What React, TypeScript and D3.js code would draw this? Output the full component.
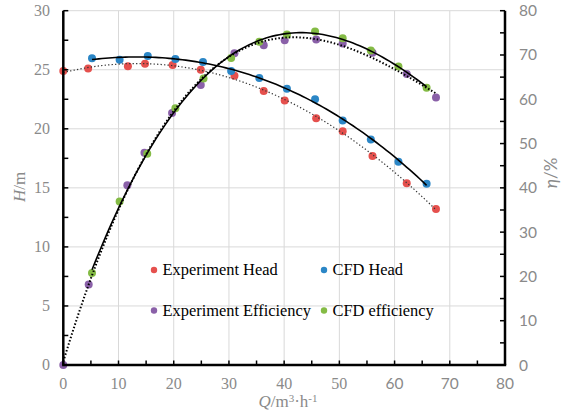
import React from "react";
import * as d3 from "d3";

const expHeadQ = [0, 4.5, 11.7, 14.8, 19.8, 24.9, 31.0, 36.3, 40.1, 45.8, 50.6, 56.0, 62.2, 67.5];
const expHeadH = [24.9, 25.1, 25.3, 25.5, 25.4, 25.0, 24.5, 23.2, 22.4, 20.9, 19.8, 17.7, 15.4, 13.2];
const cfdHeadQ = [5.2, 10.2, 15.3, 20.3, 25.3, 30.4, 35.5, 40.5, 45.6, 50.6, 55.7, 60.7, 65.8];
const cfdHeadH = [25.97, 25.85, 26.16, 25.9, 25.65, 24.9, 24.3, 23.4, 22.5, 20.7, 19.1, 17.2, 15.35];
const expEffQ = [0, 4.6, 11.6, 14.7, 19.7, 24.9, 31.0, 36.3, 40.1, 45.8, 50.6, 56.0, 62.2, 67.5];
const expEffEta = [0, 18.2, 40.6, 47.9, 56.9, 63.2, 70.4, 72.2, 73.35, 73.5, 72.6, 70.5, 65.7, 60.4];
const cfdEffQ = [5.2, 10.2, 15.2, 20.3, 25.4, 30.4, 35.5, 40.5, 45.6, 50.6, 55.7, 60.7, 65.8];
const cfdEffEta = [20.8, 36.9, 47.7, 58.0, 64.7, 69.3, 73.0, 74.6, 75.3, 73.8, 71.0, 67.4, 62.6];

const xTicks = [0, 10, 20, 30, 40, 50, 60, 70, 80];
const hTicks = [0, 5, 10, 15, 20, 25, 30];
const etaTicks = [0, 10, 20, 30, 40, 50, 60, 70, 80];
const legendLabels = ["Experiment Head", "CFD Head", "Experiment Efficiency", "CFD efficiency"];

const W = 561, H = 411;
const L = 63.3, R = 505, T = 10.7, B = 365;
const serif = "'Liberation Serif', 'Times New Roman', serif";
const sans = "Lato, 'Open Sans', sans-serif";
const gray = "#8a8a8a";

function polyfit(xs: number[], ys: number[], order: number): number[] {
  const n = order + 1;
  const A: number[][] = Array.from({ length: n }, () => new Array(n + 1).fill(0));
  for (let k = 0; k < xs.length; k++) {
    for (let i = 0; i < n; i++) {
      for (let j = 0; j < n; j++) A[i][j] += Math.pow(xs[k], i + j);
      A[i][n] += ys[k] * Math.pow(xs[k], i);
    }
  }
  for (let i = 0; i < n; i++) {
    let p = i;
    for (let r = i + 1; r < n; r++) if (Math.abs(A[r][i]) > Math.abs(A[p][i])) p = r;
    [A[i], A[p]] = [A[p], A[i]];
    for (let r = 0; r < n; r++) {
      if (r === i) continue;
      const f = A[r][i] / A[i][i];
      for (let c = i; c <= n; c++) A[r][c] -= f * A[i][c];
    }
  }
  return A.map((row, i) => row[n] / row[i]);
}

function fitCurve(xs: number[], ys: number[], order: number): [number, number][] {
  const c = polyfit(xs, ys, order);
  const x0 = d3.min(xs)!, x1 = d3.max(xs)!;
  return d3.range(0, 101).map((i) => {
    const x = x0 + ((x1 - x0) * i) / 100;
    return [x, c.reduce((s, ci, k) => s + ci * Math.pow(x, k), 0)];
  });
}

export default function App() {
  const x = d3.scaleLinear().domain([0, 80]).range([L, R]);
  const yH = d3.scaleLinear().domain([0, 30]).range([B, T]);
  const yE = d3.scaleLinear().domain([0, 80]).range([B, T]);

  const lineH = d3.line<[number, number]>().x((d) => x(d[0])).y((d) => yH(d[1]));
  const lineE = d3.line<[number, number]>().x((d) => x(d[0])).y((d) => yE(d[1]));

  const series = [
    { q: expHeadQ, v: expHeadH, y: yH, color: "#e5504d" },
    { q: cfdHeadQ, v: cfdHeadH, y: yH, color: "#2b86c6" },
    { q: expEffQ, v: expEffEta, y: yE, color: "#8a60a8" },
    { q: cfdEffQ, v: cfdEffEta, y: yE, color: "#84bb45" },
  ];

  const minorX = d3.range(0, 81, 5);
  const minorH = d3.range(0, 30.1, 2.5);
  const minorE = d3.range(0, 81, 5);

  const legendPos = [
    [154, 270],
    [324, 270],
    [154, 310.5],
    [324, 310.5],
  ];

  return (
    <svg width={W} height={H} style={{ position: "absolute", left: 0, top: 0, background: "#fff" }}>
      {/* grid */}
      {xTicks.slice(1, -1).map((t) => (
        <line key={"gx" + t} x1={x(t)} x2={x(t)} y1={T} y2={B} stroke="#d9d9d9" strokeWidth={1} />
      ))}
      {hTicks.slice(1).map((t) => (
        <line key={"gy" + t} x1={L} x2={R} y1={yH(t)} y2={yH(t)} stroke="#d9d9d9" strokeWidth={1} />
      ))}

      {/* legend */}
      {legendLabels.map((lab, i) => (
        <g key={lab}>
          <circle cx={legendPos[i][0]} cy={legendPos[i][1]} r={3.2} fill={series[i].color} />
          <text x={legendPos[i][0] + 8.5} y={legendPos[i][1] + 5.2} fontFamily={serif} fontSize={16.4} fill="#000">
            {lab}
          </text>
        </g>
      ))}

      {/* markers */}
      {series.map((s, si) =>
        s.q.map((q, i) => <circle key={si + "-" + i} cx={x(q)} cy={s.y(s.v[i])} r={4} fill={s.color} />)
      )}

      {/* trend lines */}
      <path d={lineH(fitCurve(expHeadQ, expHeadH, 3))!} fill="none" stroke="#333" strokeWidth={1.2} strokeDasharray="1.3,2.2" />
      <path d={lineH(fitCurve(cfdHeadQ, cfdHeadH, 3))!} fill="none" stroke="#000" strokeWidth={1.6} />
      <path d={lineE(fitCurve(expEffQ, expEffEta, 3))!} fill="none" stroke="#000" strokeWidth={2} strokeDasharray="1.5,2" />
      <path d={lineE(fitCurve(cfdEffQ, cfdEffEta, 3))!} fill="none" stroke="#000" strokeWidth={1.6} />

      {/* axes */}
      <line x1={L} x2={L} y1={T} y2={B} stroke="#000" strokeWidth={2.5} />
      <line x1={R} x2={R} y1={T} y2={B} stroke="#000" strokeWidth={2.5} />
      <line x1={L - 1.2} x2={R + 1.2} y1={B} y2={B} stroke="#000" strokeWidth={2.5} />
      {minorX.map((t) => (
        <line key={"tx" + t} x1={x(t)} x2={x(t)} y1={B} y2={B - 4.5} stroke="#000" strokeWidth={1.5} />
      ))}
      {minorH.map((t) => (
        <line key={"th" + t} x1={L} x2={L + 5} y1={yH(t)} y2={yH(t)} stroke="#000" strokeWidth={1.5} />
      ))}
      {minorE.map((t) => (
        <line key={"te" + t} x1={R} x2={R - 5} y1={yE(t)} y2={yE(t)} stroke="#000" strokeWidth={1.5} />
      ))}

      {/* tick labels */}
      {hTicks.map((t) => (
        <text key={"lh" + t} x={50} y={yH(t) + 5} textAnchor="end" fontFamily={serif} fontSize={16} fill={gray}>
          {t}
        </text>
      ))}
      {etaTicks.map((t) => (
        <text key={"le" + t} x={519} y={yE(t) + 5.5} textAnchor="start" fontFamily={sans} fontSize={15.5} fill={gray}>
          {t}
        </text>
      ))}
      {xTicks.map((t) => (
        <text
          key={"lx" + t}
          x={x(t)}
          y={388.5}
          textAnchor="middle"
          fontFamily={t >= 60 ? sans : serif}
          fontSize={t >= 60 ? 15.5 : 16}
          fill={gray}
        >
          {t}
        </text>
      ))}

      {/* axis titles */}
      <text transform="translate(25,187) rotate(-90)" textAnchor="middle" fontFamily={serif} fontSize={17} fill={gray}>
        <tspan fontStyle="italic">H</tspan>/m
      </text>
      <text transform="translate(557,173) rotate(-90)" textAnchor="middle" fontFamily={sans} fontSize={17} fill={gray}>
        <tspan fontStyle="italic">η</tspan>/%
      </text>
      <text x={288} y={407} textAnchor="middle" fontFamily={serif} fontSize={17} fill={gray}>
        <tspan fontStyle="italic">Q</tspan>/m
        <tspan dy={-5} fontSize={11}>3</tspan>
        <tspan dy={5}>·h</tspan>
        <tspan dy={-5} fontSize={11}>-1</tspan>
      </text>
    </svg>
  );
}
